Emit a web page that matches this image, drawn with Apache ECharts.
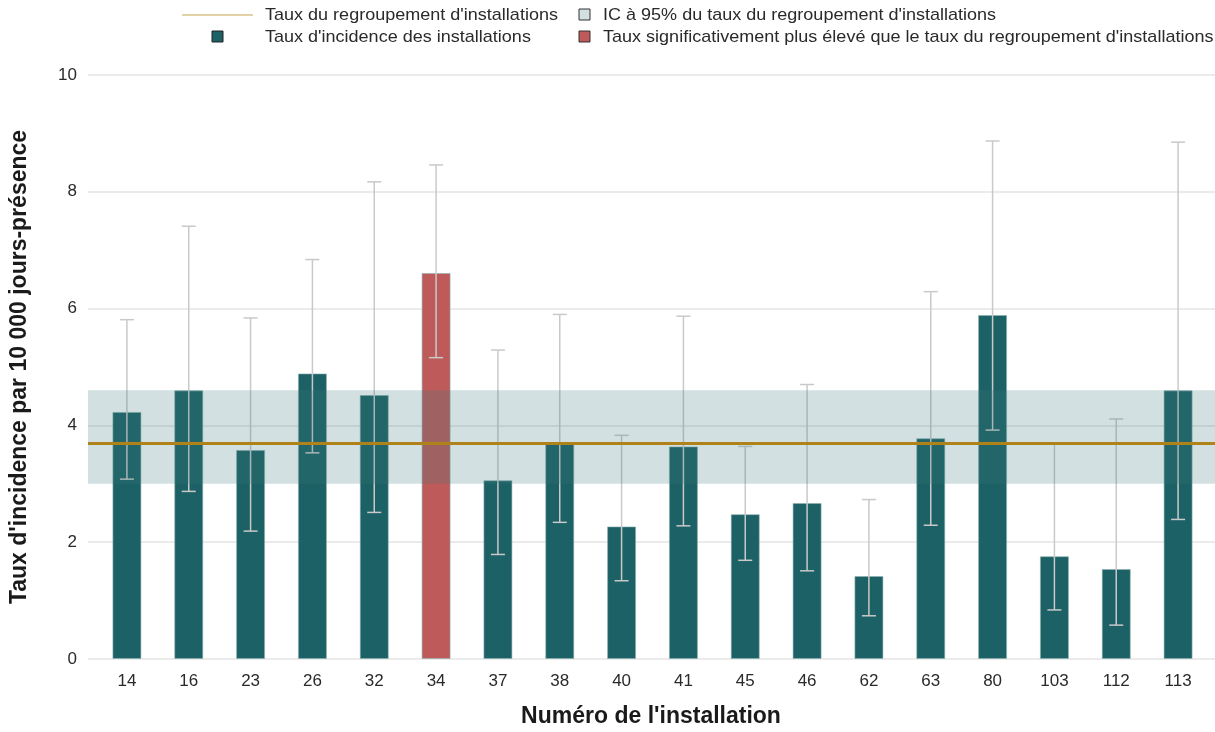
<!DOCTYPE html>
<html>
<head>
<meta charset="utf-8">
<script src="https://cdn.jsdelivr.net/npm/echarts@6/dist/echarts.min.js"></script>
<style>
  html, body { margin: 0; padding: 0; background: #fff; }
  #chart { width: 1215px; height: 732px; }
</style>
</head>
<body>
<div id="chart"></div>
<script>
// Installation numbers
const categories = ['14','16','23','26','32','34','37','38','40','41','45','46','62','63','80','103','112','113'];
// Incidence rate per 10 000 presence-days
const rates = [4.23,4.60,3.58,4.89,4.52,6.61,3.06,3.69,2.27,3.64,2.48,2.67,1.42,3.78,5.89,1.76,1.54,4.60];
// 95% confidence interval bounds per installation
const lowerCI = [3.08,2.87,2.19,3.53,2.51,5.16,1.79,2.34,1.34,2.28,1.69,1.51,0.74,2.29,3.92,0.84,0.58,2.39];
const upperCI = [5.81,7.41,5.84,6.84,8.17,8.46,5.29,5.90,3.83,5.87,3.64,4.70,2.73,6.29,8.87,3.70,4.11,8.85];
// Installations significantly above the pooled rate
const significant = ['34'];
// Pooled rate and its 95% CI
const pooledRate = 3.69;
const pooledLow = 3.00;
const pooledHigh = 4.60;
// Y axis ticks
const yTicks = [0, 2, 4, 6, 8, 10];

const FONT = "'Liberation Sans', Arial, sans-serif";
const TEAL = '#1c6165';
const RED = '#be5a5a';
const BAND = 'rgba(60,120,125,0.23)';
const POOL_LINE = '#b0821a';
const ERR = '#c9c9c9';
const TEXT = '#2a2a2a';

const chart = echarts.init(document.getElementById('chart'), null, { renderer: 'canvas' });

const GRID_TOP = 75, GRID_BOTTOM = 73;

const barData = rates.map((v, i) => ({
  value: v,
  itemStyle: { color: significant.includes(categories[i]) ? RED : TEAL }
}));
const errData = categories.map((c, i) => [i, lowerCI[i], upperCI[i]]);

function legendText(x, y, text) {
  return {
    type: 'text', x: x, y: y, scaleX: 1.06, originX: x,
    style: { text: text, font: '17px ' + FONT, fill: TEXT, textVerticalAlign: 'middle' }
  };
}

const decorations = [
  { type: 'line', shape: { x1: 182, y1: 15, x2: 253, y2: 15 }, style: { stroke: '#e3d2a8', lineWidth: 2 } },
  { type: 'text', x: 265, y: 15, style: { text: "Taux du regroupement d'installations", font: '17px ' + FONT, fill: TEXT, textVerticalAlign: 'middle' }, scaleX: 1.06, originX: 0 },
  { type: 'rect', shape: { x: 212, y: 31, width: 11, height: 11 }, style: { fill: TEAL, stroke: '#222', lineWidth: 1 } },
  { type: 'text', x: 265, y: 37, style: { text: "Taux d'incidence des installations", font: '17px ' + FONT, fill: TEXT, textVerticalAlign: 'middle' }, scaleX: 1.06, originX: 0 },
  { type: 'rect', shape: { x: 579, y: 9, width: 11, height: 11 }, style: { fill: '#d2e0e1', stroke: '#333', lineWidth: 1 } },
  { type: 'text', x: 603, y: 15, style: { text: "IC à 95% du taux du regroupement d'installations", font: '17px ' + FONT, fill: TEXT, textVerticalAlign: 'middle' }, scaleX: 1.06, originX: 0 },
  { type: 'rect', shape: { x: 579, y: 31, width: 11, height: 11 }, style: { fill: RED, stroke: '#333', lineWidth: 1 } },
  { type: 'text', x: 603, y: 37, style: { text: "Taux significativement plus élevé que le taux du regroupement d'installations", font: '17px ' + FONT, fill: TEXT, textVerticalAlign: 'middle' }, scaleX: 1.06, originX: 0 },
  // axis titles
  { type: 'text', x: 651, y: 717, style: { text: "Numéro de l'installation", font: 'bold 23px ' + FONT, fill: '#1a1a1a', textAlign: 'center', textVerticalAlign: 'middle' } },
  { type: 'text', x: 20, y: 367, rotation: Math.PI / 2, style: { text: "Taux d'incidence par 10 000 jours-présence", font: 'bold 23px ' + FONT, fill: '#1a1a1a', textAlign: 'center', textVerticalAlign: 'middle' } }
];

chart.setOption({
  animation: false,
  backgroundColor: '#fff',
  textStyle: { fontFamily: FONT },
  graphic: decorations,
  grid: [
    { left: 88, right: 0, top: GRID_TOP, bottom: GRID_BOTTOM },
    { left: 96, right: 6, top: GRID_TOP, bottom: GRID_BOTTOM }
  ],
  xAxis: [
    { type: 'value', gridIndex: 0, min: 0, max: 1, show: false },
    {
      type: 'category', gridIndex: 1, data: categories,
      axisLine: { show: false }, axisTick: { show: false },
      axisLabel: { fontSize: 17, color: TEXT, margin: 14, fontFamily: FONT }
    }
  ],
  yAxis: [
    {
      type: 'value', gridIndex: 0, min: yTicks[0], max: yTicks[yTicks.length - 1], interval: 2,
      axisLine: { show: false }, axisTick: { show: false },
      axisLabel: { fontSize: 17, color: TEXT, margin: 11, fontFamily: FONT },
      splitLine: { lineStyle: { color: '#e4e4e4', width: 1.5 } }
    },
    { type: 'value', gridIndex: 1, min: 0, max: 10, show: false, splitLine: { show: false } }
  ],
  series: [
    {
      type: 'bar', xAxisIndex: 1, yAxisIndex: 1, data: barData, barWidth: 29, z: 2,
      itemStyle: { borderColor: 'rgba(140,175,175,0.6)', borderWidth: 1 }
    },
    {
      type: 'custom', xAxisIndex: 1, yAxisIndex: 1, data: errData, z: 3,
      renderItem: function (params, api) {
        const x = api.value(0);
        const lo = api.coord([x, api.value(1)]);
        const hi = api.coord([x, api.value(2)]);
        const half = 7;
        const st = { stroke: ERR, lineWidth: 1.5 };
        return {
          type: 'group',
          children: [
            { type: 'line', shape: { x1: lo[0], y1: lo[1], x2: hi[0], y2: hi[1] }, style: st },
            { type: 'line', shape: { x1: hi[0] - half, y1: hi[1], x2: hi[0] + half, y2: hi[1] }, style: st },
            { type: 'line', shape: { x1: lo[0] - half, y1: lo[1], x2: lo[0] + half, y2: lo[1] }, style: st }
          ]
        };
      }
    },
    {
      // pooled-rate 95% CI band, drawn over bars
      type: 'custom', xAxisIndex: 0, yAxisIndex: 0, z: 4,
      data: [[0, pooledLow, 1, pooledHigh]],
      renderItem: function (params, api) {
        const p1 = api.coord([api.value(0), api.value(3)]);
        const p2 = api.coord([api.value(2), api.value(1)]);
        return {
          type: 'rect',
          shape: { x: p1[0], y: p1[1], width: p2[0] - p1[0], height: p2[1] - p1[1] },
          style: { fill: BAND }
        };
      }
    },
    {
      type: 'line', xAxisIndex: 0, yAxisIndex: 0, z: 5,
      data: [[0, pooledRate], [1, pooledRate]],
      symbol: 'none',
      lineStyle: { color: POOL_LINE, width: 3 }
    }
  ]
});
</script>
</body>
</html>
